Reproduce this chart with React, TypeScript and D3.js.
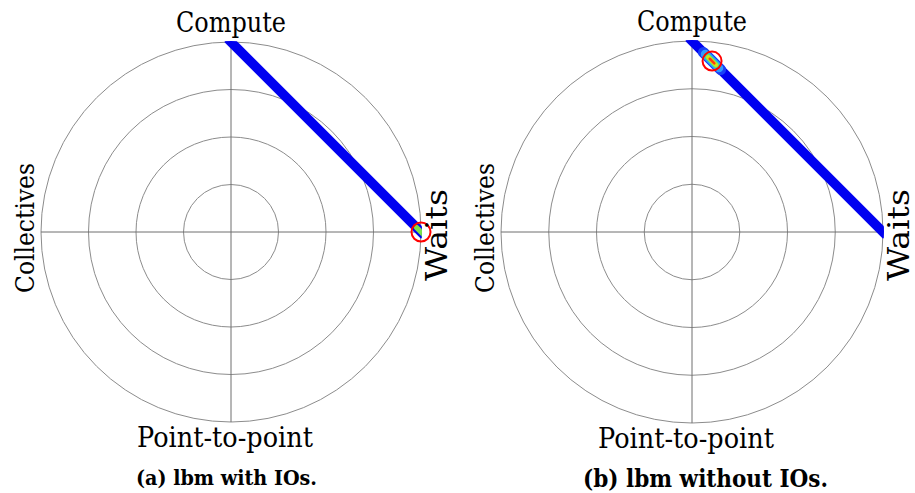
import React from "react";
import * as d3 from "d3";

// ---- data ----
const axisLabels = ["Compute", "Waits", "Point-to-point", "Collectives"];
const ringLevels = [0.25, 0.5, 0.75, 1.0];
const panelCaptions = ["(a) lbm with IOs.", "(b) lbm without IOs."];
// sample trajectory in share space (compute share / waits share)
const trajComputeA = [1.0, 0.0];
const trajWaitsA = [0.0, 1.0];
const trajComputeB = [1.0, 0.0];
const trajWaitsB = [0.0, 1.0];
// density peak (highlighted with a red circle)
const peakComputeA = [0.0];
const peakWaitsA = [1.0];
const peakComputeB = [0.895];
const peakWaitsB = [0.105];
// relative density levels around the peak
const peakDensityA = [0.65];
const peakDensityB = [0.15, 0.35, 0.55, 0.72, 0.9];

const FONT = "DejaVu Serif";

const jet = d3
  .scaleLinear<string>()
  .domain([0, 0.3, 0.45, 0.6, 0.75, 0.9, 1])
  .range(["#0000ee", "#2f7dff", "#30d8ff", "#3fe070", "#f2e600", "#ff3a10", "#d00000"])
  .clamp(true);

type PanelProps = {
  cx: number; cy: number; R: number;
  comp: number[]; waits: number[];
  peakC: number[]; peakW: number[]; dens: number[];
  caption: string; capX: number; capY: number; capSize: number; capLen: number; id: string;
};

function Panel({ cx, cy, R, comp, waits, peakC, peakW, dens, caption, capX, capY, capSize, capLen, id }: PanelProps) {
  const r = d3.scaleLinear().domain([0, 1]).range([0, R]);
  const px = (w: number) => cx + r(w);
  const py = (c: number) => cy - r(c);
  const pts: [number, number][] = comp.map((c, i) => [px(waits[i]), py(c)]);
  const line = d3.line();
  const dx = pts[pts.length - 1][0] - pts[0][0];
  const dy = pts[pts.length - 1][1] - pts[0][1];
  const len = Math.hypot(dx, dy);
  const ux = dx / len, uy = dy / len;
  return (
    <g>
      <defs>
        <clipPath id={"clip" + id}>
          <circle cx={cx} cy={cy} r={R + 1} />
        </clipPath>
      </defs>
      {ringLevels.map((lv) => (
        <circle key={lv} cx={cx} cy={cy} r={r(lv)} fill="none" stroke="#8c8c8c" strokeWidth={1} />
      ))}
      <line x1={cx - R} x2={cx + R} y1={cy} y2={cy} stroke="#6e6e6e" strokeWidth={1} />
      <line x1={cx} x2={cx} y1={cy - R} y2={cy + R} stroke="#6e6e6e" strokeWidth={1} />
      <g clipPath={`url(#clip${id})`}>
        <path d={line(pts) || ""} fill="none" stroke="#0000f0" strokeWidth={9.5} strokeLinecap="square" />
        {peakC.map((c, i) =>
          dens.map((d, j) => {
            const x0 = px(peakW[i]), y0 = py(c);
            const hl = 2 + 12 * (1 - d);
            const w = 1.5 + 11 * (1 - d);
            return (
              <line key={i + "-" + j}
                x1={x0 - ux * hl} y1={y0 - uy * hl} x2={x0 + ux * hl} y2={y0 + uy * hl}
                stroke={jet(d)} strokeWidth={w} strokeLinecap="round" />
            );
          })
        )}
      </g>
      {peakC.map((c, i) => (
        <circle key={"pk" + i} cx={px(peakW[i])} cy={py(c)} r={9.5} fill="none" stroke="#ff0000" strokeWidth={2} />
      ))}
      <text x={cx} y={cy - R - 10} fontFamily={FONT} fontSize={27} textAnchor="middle"
        textLength={110} lengthAdjust="spacingAndGlyphs">
        {axisLabels[0]}
      </text>
      <text transform={`translate(${cx + R + 26},${cy + 3}) rotate(-90)`}
        fontFamily={FONT} fontSize={30} textAnchor="middle" textLength={92} lengthAdjust="spacingAndGlyphs">
        {axisLabels[1]}
      </text>
      <text x={cx - 6} y={cy + R + 25} fontFamily={FONT} fontSize={27} textAnchor="middle"
        textLength={176} lengthAdjust="spacingAndGlyphs">
        {axisLabels[2]}
      </text>
      <text transform={`translate(${cx - R - 7},${cy - 4}) rotate(-90)`}
        fontFamily={FONT} fontSize={26} textAnchor="middle" textLength={130} lengthAdjust="spacingAndGlyphs">
        {axisLabels[3]}
      </text>
      <text x={capX} y={capY} fontFamily={FONT} fontWeight="bold" fontSize={capSize} textAnchor="middle"
        textLength={capLen} lengthAdjust="spacingAndGlyphs">
        {caption}
      </text>
    </g>
  );
}

export default function App() {
  return (
    <svg width={915} height={493} style={{ position: "absolute", left: 0, top: 0, background: "#fff" }}>
      <rect width={915} height={493} fill="#fff" />
      <Panel id="a" cx={231} cy={232} R={190}
        comp={trajComputeA} waits={trajWaitsA}
        peakC={peakComputeA} peakW={peakWaitsA} dens={peakDensityA}
        caption={panelCaptions[0]} capX={226.5} capY={485} capSize={21} capLen={181} />
      <Panel id="b" cx={692} cy={232} R={191}
        comp={trajComputeB} waits={trajWaitsB}
        peakC={peakComputeB} peakW={peakWaitsB} dens={peakDensityB}
        caption={panelCaptions[1]} capX={705.5} capY={487} capSize={24} capLen={245} />
    </svg>
  );
}
